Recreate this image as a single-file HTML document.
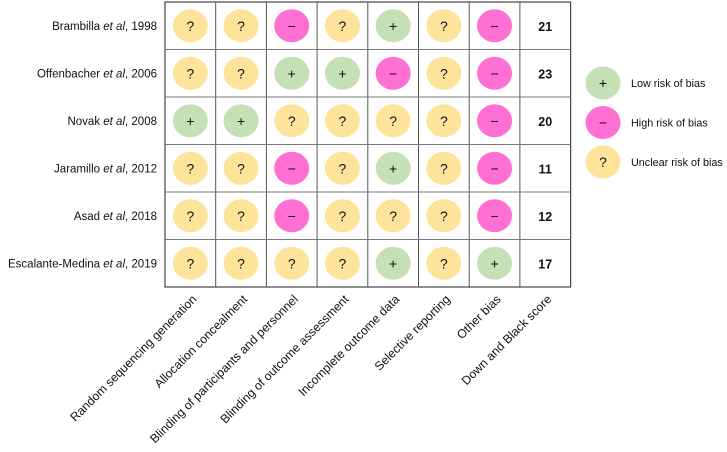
<!DOCTYPE html>
<html><head><meta charset="utf-8"><style>
body{margin:0;background:#fff;}
svg{display:block;font-family:"Liberation Sans",Arial,sans-serif;}
</style></head><body>
<svg id="chart" width="727" height="452"></svg>
<script>
const studies=["Brambilla","Offenbacher","Novak","Jaramillo","Asad","Escalante-Medina"];
const years=["1998","2006","2008","2012","2018","2019"];
const domains=["Random sequencing generation","Allocation concealment","Blinding of participants and personnel","Blinding of outcome assessment","Incomplete outcome data","Selective reporting","Other bias","Down and Black score"];
const ratings=[
["?","?","-","?","+","?","-"],
["?","?","+","+","-","?","-"],
["+","+","?","?","?","?","-"],
["?","?","-","?","+","?","-"],
["?","?","-","?","?","?","-"],
["?","?","?","?","+","?","+"]];
const scores=[21,23,20,11,12,17];
const NS="http://www.w3.org/2000/svg";
const svg=document.getElementById('chart');
const x0=165,cw=50.7,y0=2,rh=47.5;
const colX=i=>x0+i*cw, rowY=j=>y0+j*rh;
const fill={"?":"#fde49a","-":"#ff70d4","+":"#c6e0b5"};
const sym={"?":"?","-":"−","+":"+"};
function el(t,a,txt){const e=document.createElementNS(NS,t);for(const k in a)e.setAttribute(k,a[k]);if(txt!=null)e.textContent=txt;svg.appendChild(e);return e;}
const gb=el('rect',{x:x0,y:y0,width:cw*8,height:rh*6,fill:'none',stroke:'#444','stroke-width':1.2});


for(let i=1;i<8;i++){const l=el('line',{x1:colX(i),x2:colX(i),y1:y0,y2:y0+rh*6,stroke:'#555'});}
for(let j=1;j<6;j++){const l=el('line',{x1:x0,x2:x0+cw*8,y1:rowY(j),y2:rowY(j),stroke:'#777'});}
studies.forEach((s,j)=>{
  const cy=rowY(j)+rh/2;
  const t=el('text',{x:x0-8,y:cy+4,'text-anchor':'end','font-size':11.5,fill:'#111'});
  
  
  t.innerHTML=s+' <tspan font-style="italic">et al</tspan>, '+years[j];
  ratings[j].forEach((r,i)=>{
    const cx=colX(i)+cw/2;
    const c=el('ellipse',{cx:cx,cy:cy,rx:17.5,ry:16.5,fill:fill[r]});
    
    
    const tt=el('text',{x:cx,y:cy+5,'text-anchor':'middle','font-size':14,fill:'#111'},sym[r]);
    
    
  });
  const sc=el('text',{x:colX(7)+cw/2,y:cy+5,'text-anchor':'middle','font-size':12.5,'font-weight':'bold',fill:'#111'},scores[j]);
  
  
});
domains.forEach((d,i)=>{
  const x=colX(i)+cw/2+7,y=y0+rh*6+13;
  const t=el('text',{x:x,y:y,'text-anchor':'end','font-size':12.2,fill:'#111',transform:`rotate(-45 ${x} ${y})`},d);
  
  
});
const legend=[["+","Low risk of bias"],["-","High risk of bias"],["?","Unclear risk of bias"]];
legend.forEach((l,k)=>{
  const cy=83+k*39.5;
  const c=el('ellipse',{cx:603,cy:cy,rx:17.5,ry:16.5,fill:fill[l[0]]});
  
  
  const s=el('text',{x:603,y:cy+5,'text-anchor':'middle','font-size':14,fill:'#111'},sym[l[0]]);
  
  
  const t=el('text',{x:631,y:cy+4,'font-size':10.8,fill:'#111'},l[1]);
  
  
});
</script>
</body></html>
